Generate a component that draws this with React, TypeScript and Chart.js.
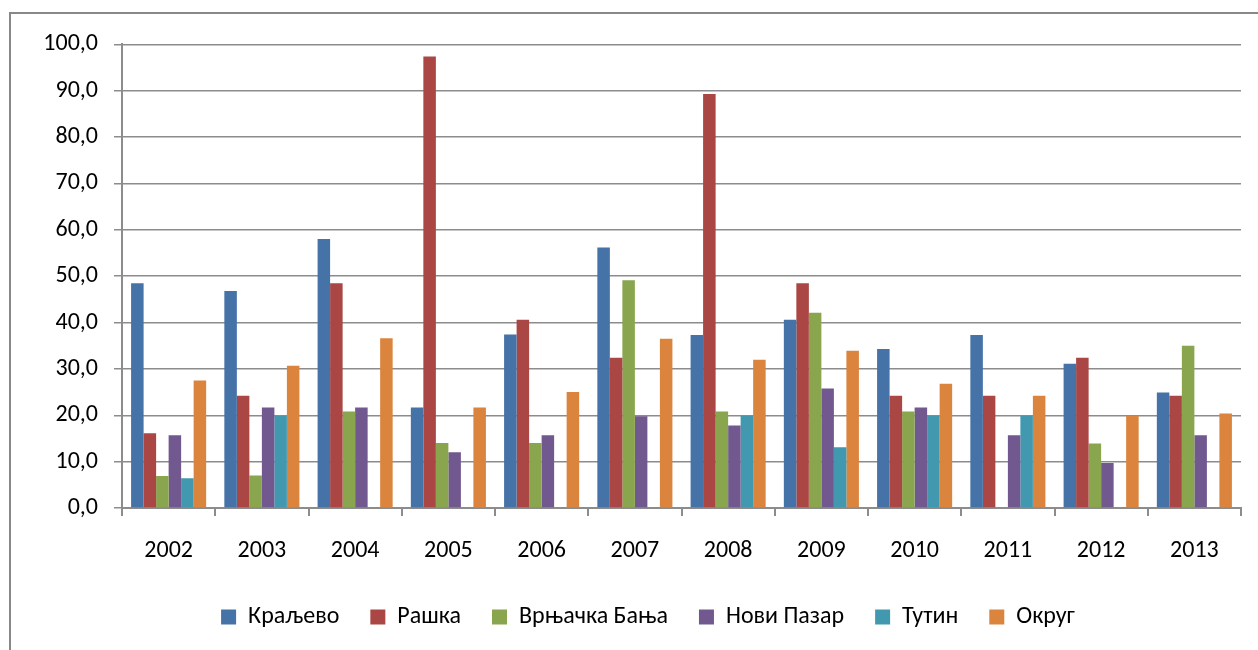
import React, { useEffect, useRef } from "react";
import { Chart, registerables } from "chart.js";

Chart.register(...registerables);

const years = ["2002", "2003", "2004", "2005", "2006", "2007", "2008", "2009", "2010", "2011", "2012", "2013"];

const seriesNames = ["Краљево", "Рашка", "Врњачка Бања", "Нови Пазар", "Тутин", "Округ"];

const kraljevo = [48.5, 46.8, 58.0, 21.7, 37.4, 56.2, 37.3, 40.6, 34.3, 37.3, 31.1, 24.9];
const raska = [16.1, 24.2, 48.5, 97.4, 40.6, 32.4, 89.3, 48.5, 24.2, 24.2, 32.4, 24.2];
const vrnjackaBanja = [6.9, 7.0, 20.8, 14.0, 14.0, 49.1, 20.8, 42.1, 20.8, null, 13.9, 35.0];
const noviPazar = [15.7, 21.7, 21.7, 12.0, 15.7, 19.8, 17.8, 25.8, 21.7, 15.7, 9.7, 15.7];
const tutin = [6.4, 19.9, null, null, null, null, 19.9, 13.1, 19.9, 19.9, null, null];
const okrug = [27.5, 30.7, 36.6, 21.7, 25.0, 36.5, 32.0, 33.9, 26.8, 24.2, 19.9, 20.4];

const colors = ["#4572A7", "#AA4643", "#89A54E", "#71588F", "#4198AF", "#DB843D"];

const FONT = "Carlito, 'Liberation Sans', Arial, sans-serif";

export default function App() {
  const ref = useRef<HTMLCanvasElement | null>(null);

  useEffect(() => {
    if (!ref.current) return;
    const values = [kraljevo, raska, vrnjackaBanja, noviPazar, tutin, okrug];
    const chart = new Chart(ref.current, {
      type: "bar",
      data: {
        labels: years,
        datasets: seriesNames.map((name, i) => ({
          label: name,
          data: values[i],
          backgroundColor: colors[i],
          borderWidth: 0,
          categoryPercentage: 0.805,
          barPercentage: 1.0,
          yAxisID: "y",
        })),
      },
      options: {
        animation: false,
        responsive: false,
        maintainAspectRatio: false,
        layout: { padding: { left: 20, right: 6, top: 28, bottom: 11 } },
        plugins: {
          tooltip: { enabled: false },
          legend: {
            position: "bottom",
            labels: {
              boxWidth: 15,
              boxHeight: 15,
              padding: 31,
              color: "#000",
              font: { family: FONT, size: 24 },
            },
          },
        },
        scales: {
          x: {
            afterFit: (s: any) => {
              s.height = 66;
            },
            grid: {
              display: true,
              drawOnChartArea: false,
              drawTicks: true,
              tickLength: 8,
              color: "#8c8c8c",
              lineWidth: 2,
              offset: true,
            },
            border: { display: true, color: "#8c8c8c", width: 2 },
            ticks: {
              color: "#000",
              padding: 21,
              font: { family: FONT, size: 24 },
              maxRotation: 0,
            },
          },
          y: {
            position: "left",
            min: 0,
            max: 100,
            afterFit: (s: any) => {
              s.width = 91;
            },
            grid: {
              color: "#8c8c8c",
              lineWidth: 1.5,
              drawTicks: true,
              tickLength: 8,
            },
            border: { display: true, color: "#8c8c8c", width: 2 },
            ticks: {
              stepSize: 10,
              color: "#000",
              padding: 16,
              font: { family: FONT, size: 24 },
              callback: (v: any) => Number(v).toFixed(1).replace(".", ","),
            },
          },
          yRight: {
            position: "right",
            display: true,
            min: 0,
            max: 100,
            afterFit: (s: any) => {
              s.width = 24;
            },
            grid: { display: false, drawOnChartArea: false, drawTicks: false },
            border: { display: false },
            ticks: { display: false },
          },
        },
      },
    });
    return () => chart.destroy();
  }, []);

  return (
    <div
      style={{
        position: "absolute",
        left: 0,
        top: 0,
        width: 1258,
        height: 650,
        overflow: "hidden",
        background: "#fff",
      }}
    >
      <div
        style={{
          position: "absolute",
          left: 9,
          top: 12,
          width: 1400,
          height: 800,
          border: "2px solid #888",
          boxSizing: "border-box",
        }}
      />
      <canvas
        ref={ref}
        width={1260}
        height={636}
        style={{ position: "absolute", left: 11, top: 14, width: 1260, height: 636 }}
      />
    </div>
  );
}
